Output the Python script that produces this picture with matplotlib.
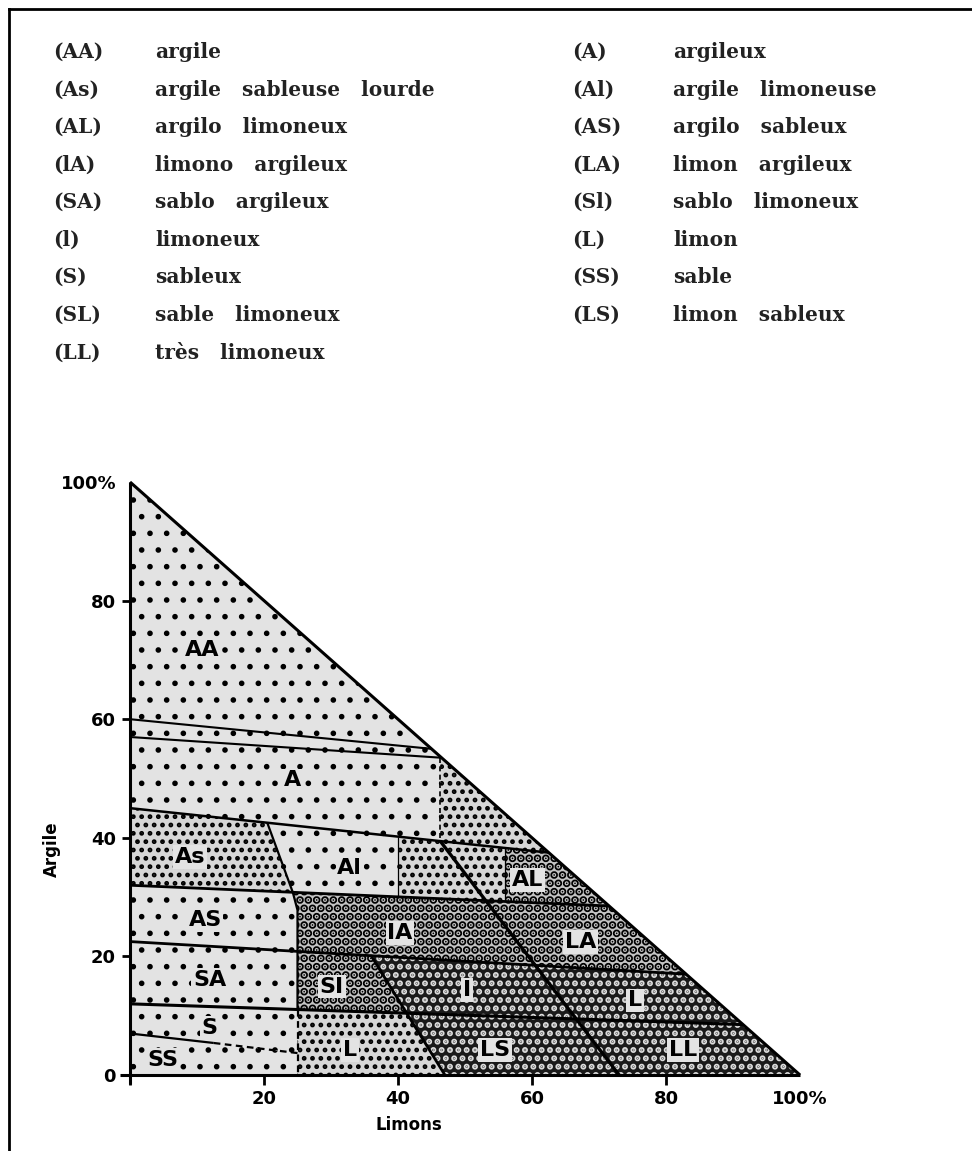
import matplotlib.pyplot as plt
from matplotlib.patches import Polygon
from matplotlib.lines import Line2D

# legend (abbreviation, description)
legend_left = [('(AA)', 'argile'), ('(As)', 'argile sableuse lourde'),
               ('(AL)', 'argilo limoneux'), ('(lA)', 'limono argileux'),
               ('(SA)', 'sablo argileux'), ('(l)', 'limoneux'),
               ('(S)', 'sableux'), ('(SL)', 'sable limoneux'),
               ('(LL)', 'très limoneux')]
legend_right = [('(A)', 'argileux'), ('(Al)', 'argile limoneuse'),
                ('(AS)', 'argilo sableux'), ('(LA)', 'limon argileux'),
                ('(Sl)', 'sablo limoneux'), ('(L)', 'limon'),
                ('(SS)', 'sable'), ('(LS)', 'limon sableux')]

# class boundaries (Limons %, Argile %)
hyp = [(0, 100), (100, 0)]
h1 = [(0, 60), (45, 55)]
h2 = [(0, 57), (46.5, 53.5)]
h3 = [(0, 45), (62.5, 37.5)]
h4 = [(0, 32), (71.5, 28.5)]
h5 = [(0, 22.5), (83, 17)]
h6 = [(0, 12), (91.5, 8.5)]
v46 = [(46.3, 0), (46.3, 100)]
v40 = [(40, 0), (40, 100)]
v56 = [(56, 0), (56, 100)]
v25 = [(25, 0), (25, 100)]
slant = [(20.5, 42.5), (24.3, 30.8)]
bend = (25, 27.8)
diag1_bottom = (73, 0)
diag2 = [(36, 20.1), (47, 0)]
ss_line = [(0, 7), (12.5, 5.4), (25, 3.7)]

# region labels
labels = ['AA', 'A', 'As', 'Al', 'AL', 'AS', 'IA', 'LA', 'SA', 'SI', 'I',
          'L', 'S', 'SS', 'L', 'LS', 'LL']
label_x = [10.7, 24.3, 9.0, 32.8, 59.3, 11.2, 40.3, 67.2, 11.9, 30.1, 50.3,
           75.4, 11.9, 4.9, 32.8, 54.5, 82.5]
label_y = [71.7, 49.7, 36.8, 34.9, 32.9, 26.1, 23.9, 22.4, 16.0, 14.9, 14.3,
           12.6, 7.9, 2.5, 4.2, 4.2, 4.2]


def cross(a, b):
    (x1, y1), (x2, y2) = a
    (x3, y3), (x4, y4) = b
    d = (x1 - x2) * (y3 - y4) - (y1 - y2) * (x3 - x4)
    t = ((x1 - x3) * (y3 - y4) - (y1 - y3) * (x3 - x4)) / d
    return (x1 + t * (x2 - x1), y1 + t * (y2 - y1))


i2_46 = cross(h2, v46)
i3_46 = cross(h3, v46)
diag1 = [i3_46, diag1_bottom]
i3_s, i4_s = cross(h3, slant), cross(h4, slant)
i3_40, i4_40 = cross(h3, v40), cross(h4, v40)
i3_56, i4_56 = cross(h3, v56), cross(h4, v56)
i4_d1, i5_d1, i6_d1 = cross(h4, diag1), cross(h5, diag1), cross(h6, diag1)
i5_25, i6_25 = cross(h5, v25), cross(h6, v25)
i5_d2, i6_d2 = cross(h5, diag2), cross(h6, diag2)
a1, a2, a3, a4, a5, a6 = [cross(h, hyp) for h in (h1, h2, h3, h4, h5, h6)]

# fill styles: (facecolor, hatch colour, hatch, hatch linewidth)
sparse = ('#e3e3e3', 'black', '.', 1.6)
fine = ('#d6d6d6', 'black', '..', 2.2)
medium = ('#c4c4c4', 'black', '..', 4.2)
dark = ('#1a1a1a', '#dcdcdc', '..', 3.0)

regions = [
    ([(0, 100), h2[0], a2], sparse),
    ([h2[0], h3[0], i3_46, i2_46], sparse),
    ([i2_46, i3_46, a3, a2], fine),
    ([h3[0], h4[0], i4_s, i3_s], fine),
    ([i3_s, i4_s, i4_40, i3_40], sparse),
    ([i3_40, i4_40, i4_d1, i3_46], fine),
    ([i3_46, i4_d1, i4_56, i3_56], fine),
    ([i3_56, i4_56, a4, a3], medium),
    ([h4[0], h5[0], i5_25, bend, i4_s], sparse),
    ([i4_s, bend, i5_25, i5_d1, i4_d1], medium),
    ([i4_d1, i5_d1, a5, a4], medium),
    ([h5[0], h6[0], i6_25, i5_25], sparse),
    ([i5_25, i6_25, i6_d2, i5_d2], medium),
    ([i5_d2, i6_d2, i6_d1, i5_d1], dark),
    ([i5_d1, i6_d1, a6, a5], dark),
    ([h6[0], ss_line[0], ss_line[1], ss_line[2], i6_25], sparse),
    ([ss_line[0], (0, 0), (25, 0), ss_line[2], ss_line[1]], sparse),
    ([i6_25, (25, 0), diag2[1], i6_d2], fine),
    ([i6_d2, diag2[1], diag1_bottom, i6_d1], dark),
    ([i6_d1, diag1_bottom, (100, 0), a6], dark),
]

fig = plt.figure(figsize=(9.72, 11.51), dpi=100)
ax = fig.add_axes([130 / 972, 76 / 1151, 670 / 972, 593 / 1151])
ax.set_xlim(0, 100)
ax.set_ylim(0, 100)

for verts, (fc, hc, hatch, hlw) in regions:
    with plt.rc_context({'hatch.linewidth': hlw}):
        p = Polygon(verts, closed=True, facecolor=fc, edgecolor=hc,
                    hatch=hatch, linewidth=0)
        if hasattr(p, 'set_hatch_linewidth'):
            p.set_hatch_linewidth(hlw)
        ax.add_patch(p)


def seg(pts, lw=1.8, ls='-'):
    xs = [p[0] for p in pts]
    ys = [p[1] for p in pts]
    ax.plot(xs, ys, color='black', lw=lw, ls=ls, clip_on=False,
            solid_capstyle='butt', zorder=3)


# class boundaries
seg([h1[0], a1], 1.5)
seg([h2[0], a2], 1.5)
seg([h3[0], a3], 1.8)
seg([h4[0], a4], 2.0)
seg([h5[0], a5], 2.0)
seg([h6[0], a6], 2.2)
seg([i2_46, i3_46], 1.2, (0, (3, 2)))
seg([i3_s, i4_s, bend, i6_25], 1.6)
seg([i6_25, (25, 0)], 1.6, (0, (3, 2)))
seg([i3_40, i4_40], 0.9)
seg([i3_56, i4_56], 0.9)
seg(diag1, 2.4)
seg([i5_d2, diag2[1]], 2.0)
seg(ss_line[:2], 1.6)
seg(ss_line[1:], 1.6, (0, (3, 2)))

# triangle outline
seg([(0, -1.5), (0, 100)], 2.2)
seg([(-1.5, 0), (100, 0)], 2.2)
seg(hyp, 2.2)

for t, x, y in zip(labels, label_x, label_y):
    ax.text(x, y, t, ha='center', va='center', fontsize=16,
            fontweight='bold', zorder=4,
            bbox=dict(boxstyle='square,pad=0.08', fc='#e3e3e3', ec='none'))

for s in ax.spines.values():
    s.set_visible(False)
ax.set_xticks([0, 20, 40, 60, 80, 100])
ax.set_xticklabels(['', '20', '40', '60', '80', '100%'])
ax.set_yticks([0, 20, 40, 60, 80, 100])
ax.set_yticklabels(['0', '20', '40', '60', '80', '100%'])
ax.tick_params(axis='x', direction='out', length=7, width=2, pad=4)
ax.tick_params(axis='y', direction='out', length=6, width=2, pad=4)
ax.xaxis.get_major_ticks()[-1].tick1line.set_visible(False)
ax.yaxis.get_major_ticks()[-1].tick1line.set_visible(False)
for lab in ax.get_xticklabels() + ax.get_yticklabels():
    lab.set_fontsize(13)
    lab.set_fontweight('bold')

ax.text(-11.6, 38, 'Argile', rotation=90, ha='center', va='center',
        fontsize=12, fontweight='bold')
ax.text(41.6, -8.4, 'Limons', ha='center', va='center', fontsize=12,
        fontweight='bold')

# legend text block
row_y = [52, 90, 127, 165, 202, 240, 277, 315, 353]
leg_font = dict(va='center', fontsize=14.5, family='DejaVu Serif',
                fontweight='bold', color='#222222')
for (abbr, desc), y in zip(legend_left, row_y):
    fig.text(53 / 972, 1 - y / 1151, abbr, **leg_font)
    fig.text(155 / 972, 1 - y / 1151, '   '.join(desc.split()), **leg_font)
for (abbr, desc), y in zip(legend_right, row_y):
    fig.text(572 / 972, 1 - y / 1151, abbr, **leg_font)
    fig.text(673 / 972, 1 - y / 1151, '   '.join(desc.split()), **leg_font)

# scan frame
fig.add_artist(Line2D([9 / 972, 9 / 972], [0, 1 - 9 / 1151], color='black',
                      lw=2, transform=fig.transFigure))
fig.add_artist(Line2D([9 / 972, 1], [1 - 9 / 1151, 1 - 9 / 1151],
                      color='black', lw=2, transform=fig.transFigure))

fig.savefig('out.png', dpi=100)
